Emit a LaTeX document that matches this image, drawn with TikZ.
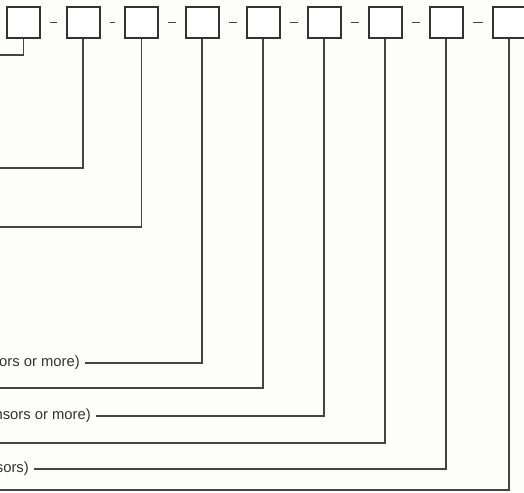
\documentclass[tikz,border=0pt]{standalone}
\usepackage{fontspec}
\setmainfont{Liberation Sans}
\usetikzlibrary{positioning}
\definecolor{inkgray}{HTML}{333333}
\definecolor{leadgray}{HTML}{444444}
\definecolor{paper}{HTML}{FDFDFB}
\begin{document}
\begin{tikzpicture}[x=1pt,y=-1pt,
    codebox/.style={draw=inkgray,line width=2pt,fill=white,minimum width=33pt,minimum height=31pt,inner sep=0pt},
    lead/.style={draw=leadgray,line width=1.5pt},
    lbl/.style={anchor=east,inner sep=0pt,text=inkgray,font=\fontsize{14.8}{17}\selectfont}]
    \useasboundingbox (0,0) rectangle (524,492);
    \clip (0,0) rectangle (524,492);
    \fill[paper] (0,0) rectangle (524,492);

    % Draw the code boxes
    \foreach \i/\x in {1/23.5,2/83,3/141.5,4/202,5/263,6/324,7/385,8/446,9/509}
        \node[codebox] (b\i) at (\x,22.5) {};

    % Dashes between the boxes
    \foreach \i [count=\j from 2] in {1,...,8}
        \draw[lead,shorten <=9pt,shorten >=9pt] (b\i.east) -- (b\j.west);

    % Free ends at the left edge
    \foreach \i/\y in {1/55,2/168,3/227,5/388,7/443,9/490}
        \coordinate (e\i) at (0,\y);

    % Label the leads
    \node[lbl] (l4) at (80,363) {ors or more)};
    \node[lbl] (l6) at (91,416) {nsors or more)};
    \node[lbl] (l8) at (29,469) {sors)};

    % Draw the leads
    \foreach \i in {1,2,3,5,7,9}
        \draw[lead] (b\i.south) |- (e\i);
    \foreach \i in {4,6,8}
        \draw[lead,shorten >=5pt] (b\i.south) |- (l\i.east);
\end{tikzpicture}
\end{document}
